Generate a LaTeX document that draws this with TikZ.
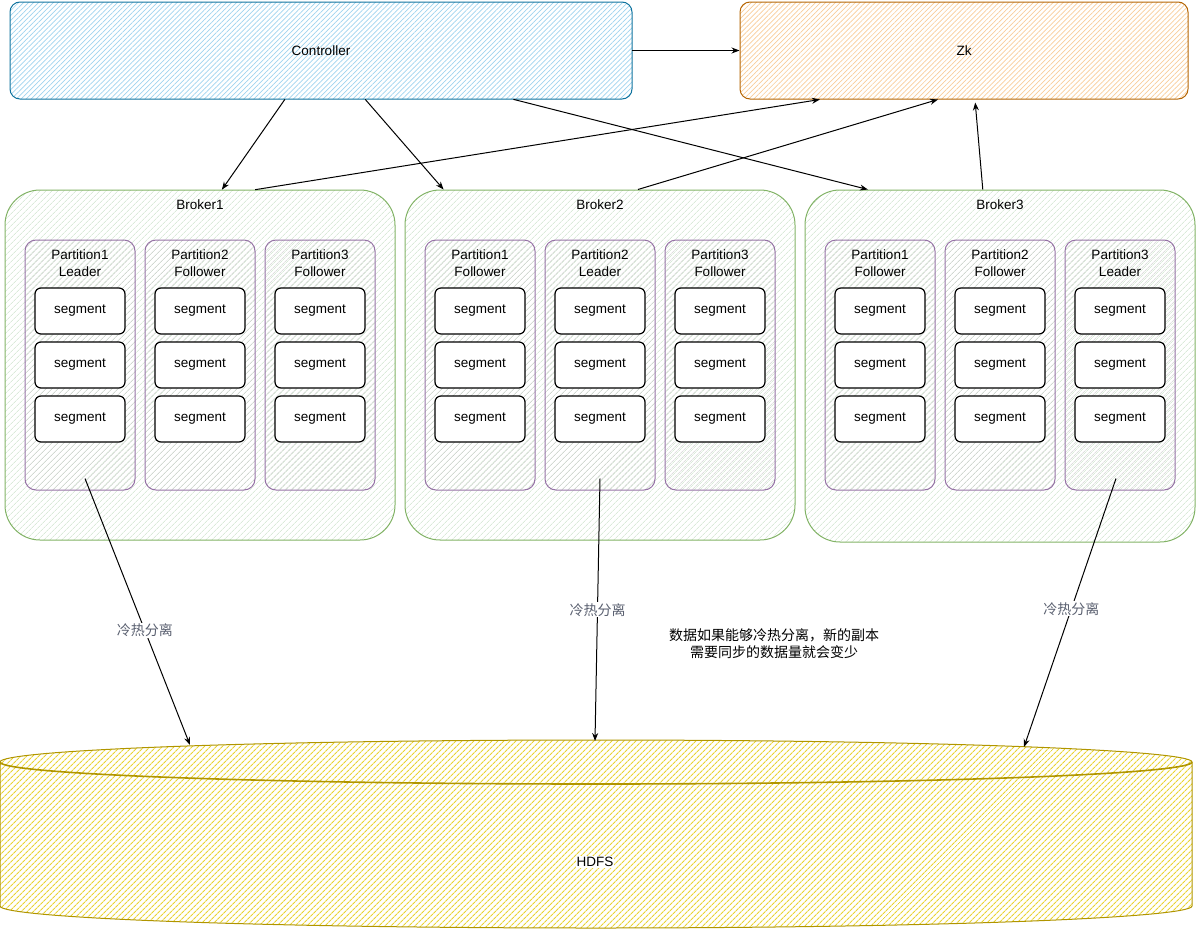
\documentclass[tikz,border=0pt]{standalone}
\usepackage{fontspec}
\setmainfont{Liberation Sans}
\newfontfamily\cjk{Noto Sans CJK SC}
\usetikzlibrary{patterns.meta,calc,arrows.meta}
\definecolor{ctrlS}{HTML}{10739E}
\definecolor{ctrlF}{HTML}{9FD3EE}
\definecolor{zkS}{HTML}{B46504}
\definecolor{zkF}{HTML}{F8CC99}
\definecolor{brS}{HTML}{82B366}
\definecolor{brF}{HTML}{C6DFC4}
\definecolor{ptS}{HTML}{9673A6}
\definecolor{ptF}{HTML}{CCCCCC}
\definecolor{hdS}{HTML}{B09500}
\definecolor{hdF}{HTML}{E3C800}
\definecolor{lblC}{HTML}{5A6070}
\tikzset{
  txt/.style={font=\fontsize{13.5}{17}\selectfont, text=black},
  ctrlbox/.style={txt, draw=ctrlS, line width=1pt, rounded corners=10pt,
    pattern={Lines[angle=45,distance=3.5pt,line width=0.7pt]}, pattern color=ctrlF},
  zkbox/.style={txt, draw=zkS, line width=1pt, rounded corners=10pt,
    pattern={Lines[angle=45,distance=3.5pt,line width=0.7pt]}, pattern color=zkF},
  brokerbox/.style={draw=brS, line width=1pt, rounded corners=35pt,
    minimum width=390pt, minimum height=350pt,
    pattern={Lines[angle=45,distance=4pt,line width=0.6pt]}, pattern color=brF},
  partbox/.style={draw=ptS, line width=1pt, rounded corners=11pt,
    minimum width=110pt, minimum height=250pt,
    pattern={Lines[angle=45,distance=4pt,line width=0.6pt]}, pattern color=ptF},
  segbox/.style={txt, draw=black, line width=1.2pt, rounded corners=6pt, fill=white,
    minimum width=90pt, minimum height=46pt, inner sep=0pt},
  plabel/.style={txt, align=center, inner sep=0pt},
  arr/.style={draw=black, line width=1pt, -{Stealth[length=8pt,width=6pt]}},
  cold/.style={font=\cjk\fontsize{14}{17}\selectfont, text=lblC, fill=white, inner sep=1pt},
}
\begin{document}
\begin{tikzpicture}[x=1pt,y=-1pt]
\useasboundingbox (0,0) rectangle (1197,932);

% HDFS cylinder
\path[pattern={Lines[angle=45,distance=4pt,line width=1.1pt]}, pattern color=hdF!80]
  (0,762) -- (0,906) arc[start angle=180,end angle=360,x radius=596pt,y radius=22pt]
  -- (1192,762) arc[start angle=0,end angle=180,x radius=596pt,y radius=22pt] -- cycle;
\draw[hdS, line width=1pt]
  (0,762) -- (0,906) arc[start angle=180,end angle=360,x radius=596pt,y radius=22pt]
  -- (1192,762) arc[start angle=0,end angle=180,x radius=596pt,y radius=22pt];
\draw[hdS, line width=1.6pt] (0,762) arc[start angle=180,end angle=360,x radius=596pt,y radius=22pt];
\node[txt, fill=white, inner sep=1pt] (hdfs) at (595,862) {HDFS};
\coordinate (hdfsA) at (190,745);
\coordinate (hdfsB) at (595,741);
\coordinate (hdfsC) at (1024,747);

% top boxes
\node[ctrlbox, minimum width=622pt, minimum height=97pt] (ctrl) at (321,50.5) {Controller};
\node[zkbox, minimum width=448pt, minimum height=97pt] (zk) at (964,50.5) {Zk};

% brokers
\node[brokerbox] (b1) at (200,365) {};
\node[brokerbox] (b2) at (600,365) {};
\node[brokerbox, minimum height=352pt] (b3) at (1000,366) {};
\node[txt] (b1l) at (200,205) {Broker1};
\node[txt] (b2l) at (600,205) {Broker2};
\node[txt] (b3l) at (1000,205) {Broker3};

% partitions and segments
\foreach \b/\bx in {1/0,2/400,3/800}{
  \foreach \p/\px in {1/80,2/200,3/320}{
    \node[partbox] (b\b p\p) at (\bx+\px,365) {};
    \node[segbox] (b\b p\p s1) at (\bx+\px,311) {segment};
    \node[segbox] (b\b p\p s2) at (\bx+\px,365) {segment};
    \node[segbox] (b\b p\p s3) at (\bx+\px,419) {segment};
  }
}
\node[plabel] (b1p1l) at (80,263) {Partition1\\Leader};
\node[plabel] (b1p2l) at (200,263) {Partition2\\Follower};
\node[plabel] (b1p3l) at (320,263) {Partition3\\Follower};
\node[plabel] (b2p1l) at (480,263) {Partition1\\Follower};
\node[plabel] (b2p2l) at (600,263) {Partition2\\Leader};
\node[plabel] (b2p3l) at (720,263) {Partition3\\Follower};
\node[plabel] (b3p1l) at (880,263) {Partition1\\Follower};
\node[plabel] (b3p2l) at (1000,263) {Partition2\\Follower};
\node[plabel] (b3p3l) at (1120,263) {Partition3\\Leader};

% connectors
\draw[arr] (ctrl.east) -- (zk.west);
\draw[arr] ($(ctrl.south west)!0.442!(ctrl.south east)$) -- ($(b1.north west)!0.556!(b1.north east)$);
\draw[arr] ($(ctrl.south west)!0.571!(ctrl.south east)$) -- ($(b2.north west)!0.1!(b2.north east)$);
\draw[arr] ($(ctrl.south west)!0.809!(ctrl.south east)$) -- ($(b3.north west)!0.162!(b3.north east)$);
\draw[arr] ($(b1.north west)!0.641!(b1.north east)$) -- ($(zk.south west)!0.179!(zk.south east)$);
\draw[arr] ($(b2.north west)!0.597!(b2.north east)$) -- ($(zk.south west)!0.442!(zk.south east)$);
\draw[arr] ($(b3.north west)!0.456!(b3.north east)$) -- ($(zk.south west)!0.525!(zk.south east)+(0,3)$);

\draw[arr] ($(b1p1.south)+(5,-12)$) -- node[cold, pos=0.57] (c1) {冷热分离} (hdfsA);
\draw[arr] ($(b2p2.south)+(0,-12)$) -- node[cold, pos=0.5] (c2) {冷热分离} (hdfsB);
\draw[arr] ($(b3p3.south)+(-4,-12)$) -- node[cold, pos=0.485] (c3) {冷热分离} (hdfsC);

\node[font=\cjk\fontsize{14}{17}\selectfont, align=center, text=black] (note) at (774,644)
  {数据如果能够冷热分离，新的副本\\需要同步的数据量就会变少};
\end{tikzpicture}
\end{document}
